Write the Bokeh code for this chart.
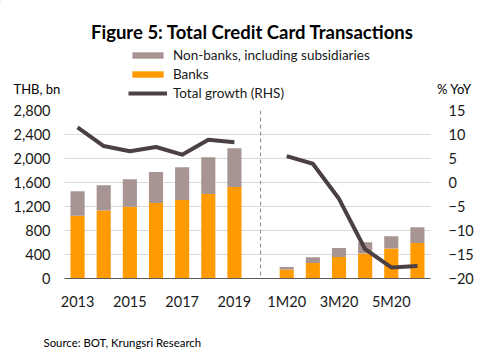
from bokeh.plotting import figure
from bokeh.models import (Range1d, LinearAxis, Label, Legend, LegendItem, Span,
                          FixedTicker, NumeralTickFormatter, ColumnDataSource)
from bokeh.layouts import column
from bokeh.embed import file_html
from bokeh.resources import INLINE

# ---- data ----
years = ["2013", "2014", "2015", "2016", "2017", "2018", "2019"]
months = ["1M20", "2M20", "3M20", "4M20", "5M20", "6M20"]
banks_years = [1045, 1135, 1195, 1260, 1310, 1410, 1525]
nonbanks_years = [410, 420, 460, 517, 545, 612, 647]
growth_years = [11.5, 7.6, 6.5, 7.4, 5.8, 8.9, 8.4]
banks_months = [150, 260, 360, 417, 500, 593]
nonbanks_months = [43, 95, 150, 188, 205, 262]
growth_months = [5.5, 3.9, -3.4, -13.9, -17.7, -17.4]
tick_labels = ["2013", "2015", "2017", "2019", "1M20", "3M20", "5M20"]

# positions: years 0..6, gap at 7, months 8..13
cats = years + [""] + months
x_years = [cats.index(c) for c in years]
x_months = [cats.index(c) for c in months]

FONT = "Lato"
ORANGE = "#FF9A00"
GRAY = "#A69592"
LINE = "#4C4142"
TXT = "#1a1a1a"
W_ = 478
TOP_H = 102
BOT_H = 35
MAIN_H = 353 - TOP_H - BOT_H


def blank(h):
    f = figure(width=W_, height=h, output_backend="svg", toolbar_location=None,
               x_range=Range1d(0, W_), y_range=Range1d(h, 0),
               min_border=0, x_axis_type=None, y_axis_type=None)
    f.outline_line_color = None
    f.grid.visible = False
    f.background_fill_color = "white"
    f.border_fill_color = "white"
    return f


def lab(f, text, cx, cy, size, align="left", bold=False, baseline="alphabetic"):
    f.add_layout(Label(x=cx, y=cy, text=text, text_font=FONT, text_font_size=size,
                       text_font_style="bold" if bold else "normal",
                       text_align=align, text_baseline=baseline,
                       text_color="#000000"))


# ---- top: title, legend, axis units ----
top = blank(TOP_H)
lab(top, "Figure 5: Total Credit Card Transactions", 252, 31, "18.5px", align="center", bold=True)
lab(top, "THB, bn", 13, 88, "13px")
lab(top, "% YoY", 471, 88, "13px", align="right")

# legend proxies (placed off-canvas, only their swatches are shown)
d_nb = top.vbar(x=[-1000], top=[1], width=1, color=GRAY, line_color=None)
d_b = top.vbar(x=[-1000], top=[1], width=1, color=ORANGE, line_color=None)
d_l = top.line(x=[-1000, -999], y=[1, 1], line_color=LINE, line_width=4)
legend = Legend(items=[
    LegendItem(label="Non-banks, including subsidiaries", renderers=[d_nb]),
    LegendItem(label="Banks", renderers=[d_b]),
    LegendItem(label="Total growth (RHS)", renderers=[d_l]),
], location=(128, 0), orientation="vertical")
legend.border_line_color = None
legend.background_fill_alpha = 0
legend.padding = 0
legend.margin = 0
legend.spacing = 0
legend.glyph_width = 39
legend.glyph_height = 8
legend.label_height = 19
legend.label_standoff = 6
legend.label_text_font = FONT
legend.label_text_font_size = "13.5px"
legend.label_text_color = TXT
top.add_layout(legend, "center")

# ---- main chart ----
p = figure(width=W_, height=MAIN_H, output_backend="svg", toolbar_location=None,
           x_range=Range1d(-0.5, len(cats) - 0.5), y_range=Range1d(0, 2800),
           min_border_left=64, min_border_right=48, min_border_top=8,
           min_border_bottom=40)
p.outline_line_color = None
p.background_fill_color = "white"
p.border_fill_color = "white"
p.extra_y_ranges = {"pct": Range1d(-20, 15)}

src_y = ColumnDataSource(dict(x=x_years, banks=banks_years, nonbanks=nonbanks_years,
                              growth=growth_years))
src_m = ColumnDataSource(dict(x=x_months, banks=banks_months, nonbanks=nonbanks_months,
                              growth=growth_months))

W = 0.54
for s in (src_y, src_m):
    p.vbar_stack(["banks", "nonbanks"], x="x", width=W, source=s,
                 color=[ORANGE, GRAY], line_color=None)

for s in (src_y, src_m):
    p.line("x", "growth", source=s, y_range_name="pct", line_color=LINE,
           line_width=4, line_join="round")

p.add_layout(Span(location=7, dimension="height", line_color="#8C8C8C",
                  line_dash="4 3", line_width=1))

p.xaxis.ticker = FixedTicker(ticks=[cats.index(c) for c in tick_labels])
p.xaxis.major_label_overrides = {cats.index(c): c for c in tick_labels}
p.xaxis.major_tick_line_color = None
p.xaxis.minor_tick_line_color = None
p.xaxis.axis_line_color = "#595959"
p.xaxis.axis_line_width = 1
p.xaxis.major_label_standoff = 8
p.xaxis.major_label_text_font = FONT
p.xaxis.major_label_text_font_size = "14.5px"
p.xaxis.major_label_text_color = TXT

p.yaxis.ticker = FixedTicker(ticks=list(range(0, 2801, 400)))
p.yaxis.formatter = NumeralTickFormatter(format="0,0")
p.yaxis.axis_line_color = None
p.yaxis.major_tick_line_color = None
p.yaxis.minor_tick_line_color = None
p.yaxis.major_label_standoff = 8
p.yaxis.major_label_text_font = FONT
p.yaxis.major_label_text_font_size = "14.5px"
p.yaxis.major_label_text_color = TXT

ra = LinearAxis(y_range_name="pct", ticker=FixedTicker(ticks=list(range(-20, 16, 5))))
ra.axis_line_color = None
ra.major_tick_line_color = None
ra.minor_tick_line_color = None
ra.major_label_standoff = 12
ra.major_label_text_font = FONT
ra.major_label_text_font_size = "14.5px"
ra.major_label_text_color = TXT
p.add_layout(ra, "right")

p.xgrid.grid_line_color = None
p.ygrid.grid_line_color = "#D9D9D9"
p.ygrid.grid_line_width = 1

# ---- bottom: source ----
bot = blank(BOT_H)
lab(bot, "Source: BOT, Krungsri Research", 43, 342 - (TOP_H + MAIN_H), "11.4px")

layout = column(column(top), p, column(bot), spacing=0)
open("out.html", "w").write(file_html(layout, INLINE))
